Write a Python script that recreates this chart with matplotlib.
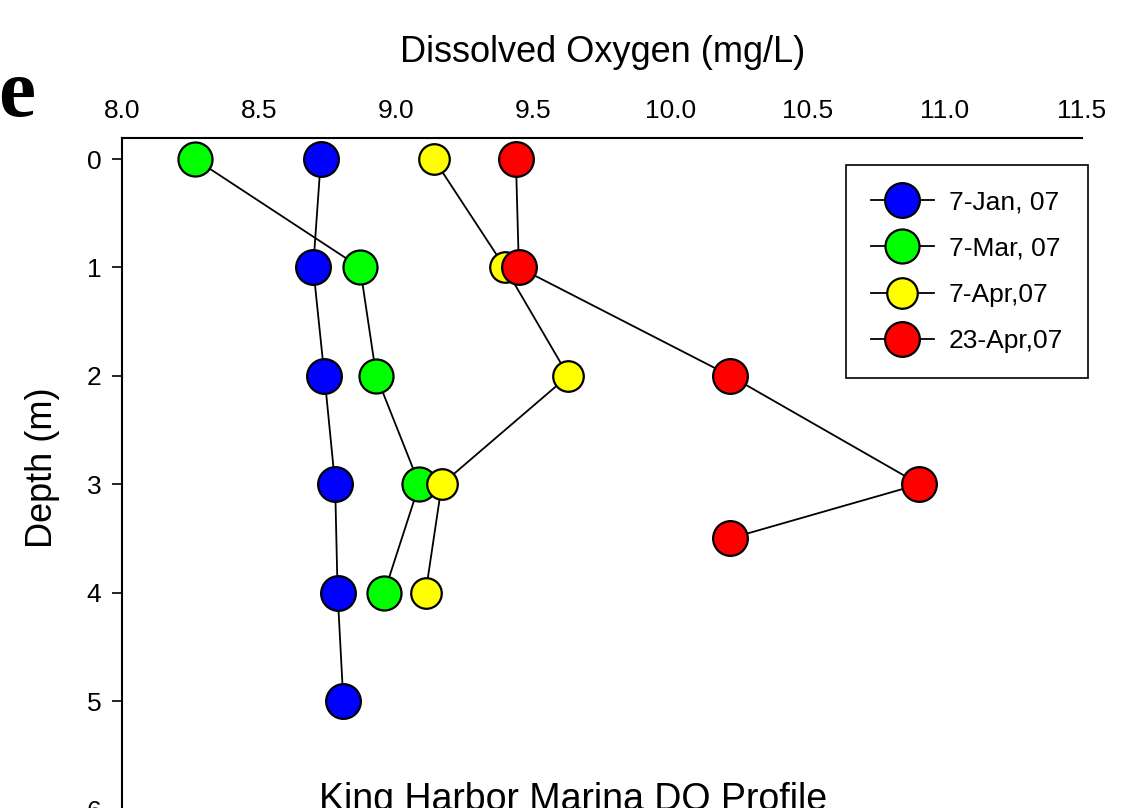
import matplotlib
matplotlib.use("Agg")
import matplotlib.pyplot as plt

plt.rcParams['font.family'] = ['Liberation Sans', 'DejaVu Sans']

labels = ['7-Jan, 07', '7-Mar, 07', '7-Apr,07', '23-Apr,07']
colors = ['#0000ff', '#00ff00', '#ffff00', '#ff0000']
sizes = [25, 24.5, 22, 25]

jan_depth = [0, 1, 2, 3, 4, 5]
jan_do = [8.725, 8.697, 8.738, 8.777, 8.786, 8.807]
mar_depth = [0, 1, 2, 3, 4]
mar_do = [8.266, 8.868, 8.927, 9.084, 8.956]
apr7_depth = [0, 1, 2, 3, 4]
apr7_do = [9.137, 9.396, 9.627, 9.166, 9.107]
apr23_depth = [0, 1, 2, 3, 3.5]
apr23_do = [9.436, 9.447, 10.217, 10.907, 10.217]

series = [(jan_do, jan_depth), (mar_do, mar_depth), (apr7_do, apr7_depth), (apr23_do, apr23_depth)]

W, H = 1123, 808
fig = plt.figure(figsize=(W / 100, H / 100), dpi=100)

# axes: left spine x=122, right end 1082, top spine y=138; bottom runs off the image
ymin, ymax = -0.194, 6.6
ppm = 108.4
top_px = 138
bot_px = top_px + (ymax - ymin) * ppm
ax = fig.add_axes([122 / W, (H - bot_px) / H, (1082 - 122) / W, (bot_px - top_px) / H])

for (xv, yv), lab, c, ms in zip(series, labels, colors, sizes):
    ax.plot(xv, yv, color='black', lw=1.3, marker='o', ms=ms, mfc=c, mec='black', mew=1.6, label=lab)

ax.set_xlim(8.0, 11.5)
ax.set_ylim(ymax, ymin)
ax.set_xticks([8.0, 8.5, 9.0, 9.5, 10.0, 10.5, 11.0, 11.5])
ax.set_xticklabels(['8.0', '8.5', '9.0', '9.5', '10.0', '10.5', '11.0', '11.5'])
ax.set_yticks([0, 1, 2, 3, 4, 5, 6])
ax.xaxis.tick_top()
ax.tick_params(axis='x', length=0, pad=11, labelsize=19)
ax.tick_params(axis='y', direction='out', length=7, width=1.2, pad=8, labelsize=19)
ax.spines['right'].set_visible(False)
ax.spines['bottom'].set_visible(False)
for s in ['top', 'left']:
    ax.spines[s].set_linewidth(1.5)

leg = ax.legend(loc='upper right', bbox_to_anchor=((1088 - 122) / (1082 - 122), (bot_px - 165) / (bot_px - top_px)),
                fontsize=19, frameon=True, fancybox=False, edgecolor='black', framealpha=1,
                handlelength=2.4, handletextpad=0.55, labelspacing=0.85,
                borderpad=0.95, borderaxespad=0)
leg.get_frame().set_linewidth(1.2)

fig.text(603 / W, (H - 62) / H, 'Dissolved Oxygen (mg/L)', fontsize=26, ha='center', va='baseline')
fig.text(43 / W, (H - 468) / H, 'Depth (m)', fontsize=26, ha='center', va='center', rotation=90)
fig.text(573 / W, (H - 810) / H, 'King Harbor Marina DO Profile', fontsize=27, ha='center', va='baseline')
fig.text(-2 / W, (H - 116) / H, 'e', fontsize=60, fontweight='bold', family='Liberation Serif', ha='left', va='baseline')

fig.savefig('out.png', dpi=100)
